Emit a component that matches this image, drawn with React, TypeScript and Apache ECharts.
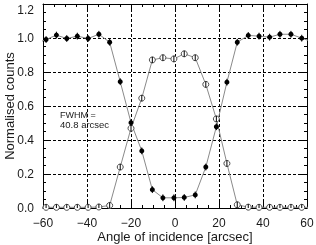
import React, { useEffect, useRef } from "react";
import * as echarts from "echarts";

// Scan angles (arcsec); the outer two points lie beyond the plotted range and are clipped
const angles = [-63.4, -58.6, -53.9, -49.2, -44.4, -39.5, -34.6, -29.7, -24.9, -20.0, -15.1, -10.3, -5.5, -0.5, 4.2, 9.2, 14.0, 18.8, 23.6, 28.3, 33.3, 38.2, 43.0, 47.7, 52.7, 57.6, 62.4];
const filledCounts = [0.967, 0.991, 1.017, 0.997, 1.011, 0.997, 1.022, 0.975, 0.743, 0.502, 0.336, 0.108, 0.060, 0.060, 0.062, 0.077, 0.241, 0.478, 0.740, 0.975, 1.015, 1.011, 1.005, 1.022, 1.022, 0.999, 0.978];
const openCounts = [0.004, 0.004, 0.004, 0.004, 0.004, 0.004, 0.006, 0.015, 0.241, 0.469, 0.646, 0.871, 0.884, 0.877, 0.907, 0.884, 0.727, 0.524, 0.262, 0.019, 0.005, 0.004, 0.004, 0.004, 0.004, 0.004, 0.004];
const filledErr = [0.02, 0.02, 0.02, 0.02, 0.02, 0.02, 0.02, 0.02, 0.02, 0.02, 0.02, 0.02, 0.02, 0.02, 0.02, 0.02, 0.02, 0.02, 0.02, 0.02, 0.02, 0.02, 0.02, 0.02, 0.02, 0.02, 0.02];
const openErr = [0.018, 0.018, 0.018, 0.018, 0.018, 0.018, 0.018, 0.018, 0.018, 0.018, 0.018, 0.018, 0.018, 0.018, 0.018, 0.018, 0.018, 0.018, 0.018, 0.018, 0.018, 0.018, 0.018, 0.018, 0.018, 0.018, 0.018];
const xTicks = { min: -60, max: 60, interval: 20 };
const yTicks = { min: 0, max: 1.2, interval: 0.2 };
const annotation = ["FWHM =", "40.8 arcsec"];

const FONT = "Liberation Sans";
const TXT = "#1a1a1a";

export default function App() {
  const ref = useRef<HTMLDivElement>(null);
  useEffect(() => {
    if (!ref.current) return;
    const chart = echarts.init(ref.current, undefined, { renderer: "svg" });
    const filledData = angles.map((a, i) => [a, filledCounts[i]]);
    const openData = angles.map((a, i) => [a, openCounts[i]]);
    const filledErrData = angles.map((a, i) => [a, filledCounts[i], filledErr[i]]);
    const openErrData = angles.map((a, i) => [a, openCounts[i], openErr[i]]);

    const errRender = (params: any, api: any) => {
      const x = api.value(0);
      const y = api.value(1);
      const e = api.value(2);
      const p1 = api.coord([x, y + e]);
      const p2 = api.coord([x, y - e]);
      return {
        type: "line",
        shape: { x1: p1[0], y1: p1[1], x2: p2[0], y2: p2[1] },
        style: { stroke: "#000", lineWidth: 1 },
      };
    };

    const dashed = { show: true, lineStyle: { color: "#000", type: [3, 2], width: 1 } };
    const axisLine = { show: true, onZero: false, lineStyle: { color: "#000", width: 1 } };
    const minus = (v: number) => String(v).replace("-", "\u2212");

    chart.setOption({
      animation: false,
      grid: { left: 43, right: 9, top: 4, bottom: 37, containLabel: false, outerBoundsMode: "none" },
      xAxis: [
        {
          type: "value",
          ...xTicks,
          position: "bottom",
          axisLine,
          axisTick: { show: true, inside: true, length: 6, lineStyle: { color: "#000" } },
          minorTick: { show: true, splitNumber: 4, length: 3, lineStyle: { color: "#000" } },
          splitLine: dashed,
          axisLabel: { fontFamily: FONT, fontSize: 12, lineHeight: 12, color: TXT, margin: 9, formatter: minus },
          name: "Angle of incidence [arcsec]",
          nameLocation: "middle",
          nameGap: 22,
          nameMoveOverlap: false,
          nameTextStyle: { fontFamily: FONT, fontSize: 13, lineHeight: 13, color: TXT },
        },
        {
          type: "value",
          ...xTicks,
          position: "top",
          axisLine,
          axisTick: { show: true, inside: true, length: 6, lineStyle: { color: "#000" } },
          minorTick: { show: true, splitNumber: 4, length: 3, lineStyle: { color: "#000" } },
          splitLine: { show: false },
          axisLabel: { show: false },
        },
      ],
      yAxis: [
        {
          type: "value",
          ...yTicks,
          position: "left",
          axisLine,
          axisTick: { show: true, inside: true, length: 6, lineStyle: { color: "#000" } },
          minorTick: { show: true, splitNumber: 4, length: 3, lineStyle: { color: "#000" } },
          splitLine: dashed,
          axisLabel: {
            fontFamily: FONT,
            fontSize: 12,
            color: TXT,
            margin: 9,
            verticalAlignMaxLabel: "top",
            formatter: (v: number) => v.toFixed(1),
          },
          name: "Normalised counts",
          nameLocation: "middle",
          nameGap: 27,
          nameMoveOverlap: false,
          nameTextStyle: { fontFamily: FONT, fontSize: 13, color: TXT },
        },
        {
          type: "value",
          ...yTicks,
          position: "right",
          axisLine,
          axisTick: { show: true, inside: true, length: 6, lineStyle: { color: "#000" } },
          minorTick: { show: true, splitNumber: 4, length: 3, lineStyle: { color: "#000" } },
          splitLine: { show: false },
          axisLabel: { show: false },
        },
      ],
      series: [
        {
          type: "line",
          data: filledData,
          symbol: "circle",
          symbolSize: 5,
          showAllSymbol: true,
          clip: true,
          itemStyle: { color: "#000" },
          lineStyle: { color: "#8a8a8a", width: 1 },
          z: 3,
        },
        {
          type: "line",
          data: openData,
          symbol: "circle",
          symbolSize: 6,
          showAllSymbol: true,
          clip: true,
          itemStyle: { color: "#fff", borderColor: "#4a4a4a", borderWidth: 1 },
          lineStyle: { color: "#8a8a8a", width: 1 },
          z: 3,
        },
        { type: "custom", data: filledErrData, renderItem: errRender, clip: true, z: 4 },
        { type: "custom", data: openErrData, renderItem: errRender, clip: true, z: 4 },
      ],
      graphic: [
        { type: "text", left: 60, top: 110, style: { text: annotation[0], font: `9px ${FONT}`, fill: TXT } },
        { type: "text", left: 60, top: 119.5, style: { text: annotation[1], font: `9.5px ${FONT}`, fill: TXT } },
      ],
    });
    return () => chart.dispose();
  }, []);
  return <div ref={ref} style={{ position: "fixed", left: 0, top: 0, width: 316, height: 245 }} />;
}
